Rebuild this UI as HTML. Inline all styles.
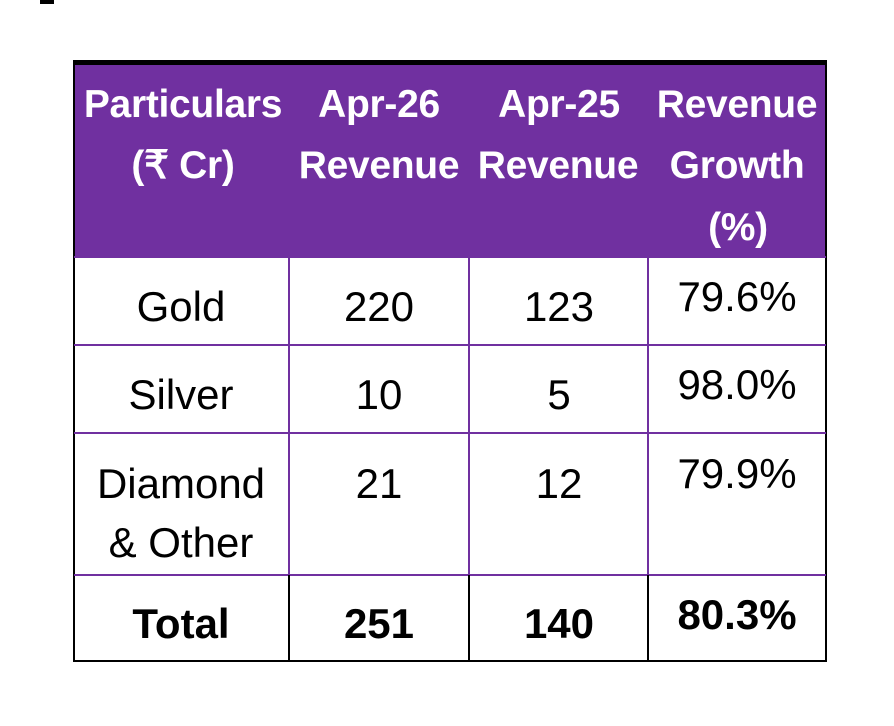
<!DOCTYPE html>
<html><head><meta charset="utf-8"><style>
body{margin:0;width:894px;height:726px;background:#fff;position:relative;overflow:hidden;font-family:"Liberation Sans","Noto Sans CJK SC",sans-serif}
.a{position:absolute}
.t{position:absolute;width:240px;text-align:center;white-space:nowrap;line-height:44px;font-size:40px}
.h{color:#fff;font-weight:bold;font-size:39px;letter-spacing:-0.3px}
.b{color:#000;font-size:42px}
.bb{font-weight:bold}
</style></head><body>
<div class="a" style="left:40px;top:0;width:14px;height:4px;background:#000"></div>
<div class="a" style="left:74px;top:64px;width:752px;height:192px;background:#7030A0"></div>
<div class="a" style="left:74px;top:60px;width:752px;height:5px;background:#000"></div>
<div class="a" style="left:73px;top:60px;width:2px;height:602px;background:#000"></div>
<div class="a" style="left:825px;top:60px;width:2px;height:602px;background:#000"></div>
<div class="a" style="left:73px;top:660px;width:754px;height:2px;background:#000"></div>
<div class="a" style="left:74px;top:256px;width:752px;height:2px;background:#7030A0"></div>
<div class="a" style="left:74px;top:344px;width:752px;height:2px;background:#7030A0"></div>
<div class="a" style="left:74px;top:432px;width:752px;height:2px;background:#7030A0"></div>
<div class="a" style="left:74px;top:574px;width:752px;height:2px;background:#7030A0"></div>
<div class="a" style="left:288px;top:257px;width:2px;height:318px;background:#7030A0"></div>
<div class="a" style="left:468px;top:257px;width:2px;height:318px;background:#7030A0"></div>
<div class="a" style="left:647px;top:257px;width:2px;height:318px;background:#7030A0"></div>
<div class="a" style="left:288px;top:575px;width:2px;height:86px;background:#000"></div>
<div class="a" style="left:468px;top:575px;width:2px;height:86px;background:#000"></div>
<div class="a" style="left:647px;top:575px;width:2px;height:86px;background:#000"></div>

<div class="t h" style="left:63px;top:83px">Particulars</div>
<div class="t h" style="left:259px;top:83px">Apr-26</div>
<div class="t h" style="left:439px;top:83px">Apr-25</div>
<div class="t h" style="left:617px;top:83px">Revenue</div>
<div class="t h" style="left:63px;top:144px">(₹ Cr)</div>
<div class="t h" style="left:259px;top:144px">Revenue</div>
<div class="t h" style="left:438px;top:144px">Revenue</div>
<div class="t h" style="left:617px;top:144px">Growth</div>
<div class="t h" style="left:618px;top:206px">(%)</div>

<div class="t b" style="left:61px;top:285px">Gold</div>
<div class="t b" style="left:259px;top:285px">220</div>
<div class="t b" style="left:439px;top:285px">123</div>
<div class="t b" style="left:617px;top:275px">79.6%</div>
<div class="t b" style="left:61px;top:373px">Silver</div>
<div class="t b" style="left:259px;top:373px">10</div>
<div class="t b" style="left:439px;top:373px">5</div>
<div class="t b" style="left:617px;top:363px">98.0%</div>
<div class="t b" style="left:61px;top:462px">Diamond</div>
<div class="t b" style="left:61px;top:521px">&amp; Other</div>
<div class="t b" style="left:259px;top:462px">21</div>
<div class="t b" style="left:439px;top:462px">12</div>
<div class="t b" style="left:617px;top:452px">79.9%</div>
<div class="t b bb" style="left:61px;top:602px">Total</div>
<div class="t b bb" style="left:259px;top:602px">251</div>
<div class="t b bb" style="left:439px;top:602px">140</div>
<div class="t b bb" style="left:617px;top:593px">80.3%</div>
</body></html>
